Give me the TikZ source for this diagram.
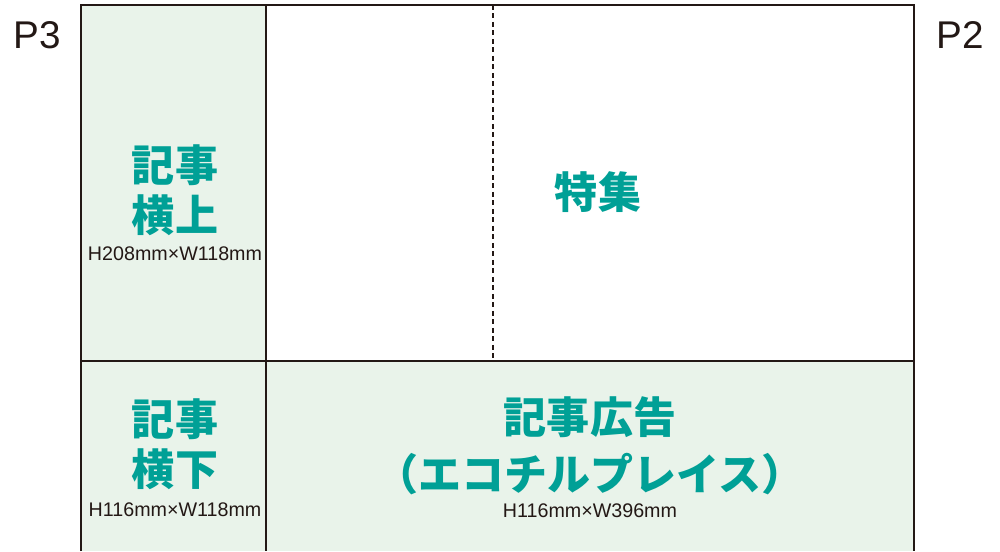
\documentclass[tikz,border=0pt]{standalone}
\usepackage{fontspec}
\setmainfont{Liberation Sans}
\newfontfamily\jpfont{Noto Sans CJK JP}
\usepackage{tikz}
\usetikzlibrary{positioning}
\definecolor{PageGreen}{RGB}{233,243,234}
\definecolor{TealText}{RGB}{0,160,150}
\definecolor{FrameInk}{RGB}{35,24,21}
\tikzset{
    frameline/.style={draw=FrameInk, line width=1.6pt},
    foldline/.style={draw=FrameInk, line width=0.6pt, dash pattern=on 0.1cm off 0.07cm},
    title/.style={font=\jpfont\bfseries\fontsize{24.5pt}{28.5pt}\selectfont, text=TealText, align=center, inner sep=0pt},
    sizetxt/.style={font=\fontsize{11.2pt}{13pt}\selectfont, text=FrameInk, inner sep=0pt},
    pagetxt/.style={font=\fontsize{22pt}{26pt}\selectfont, text=FrameInk, inner sep=0pt}
}
\begin{document}
\begin{tikzpicture}[x=0.02cm, y=-0.02cm]
    \useasboundingbox (0,0) rectangle (1000,551);

    % --- frame ---
    \coordinate (tl) at (81,5);
    \coordinate (tr) at (914,5);
    \coordinate (bl) at (81,551);
    \coordinate (br) at (914,551);
    \coordinate (midL) at (81,361);
    \coordinate (midR) at (914,361);
    \coordinate (colT) at (266,5);
    \coordinate (colB) at (266,551);
    \coordinate (foldT) at (493,5);
    \coordinate (foldB) at (493,361);

    \fill[PageGreen] (tl) rectangle (colB);
    \fill[PageGreen] (266,361) rectangle (br);

    \draw[foldline] (foldT) -- (foldB);
    \draw[frameline] (bl) -- (tl) -- (tr) -- (br);
    \draw[frameline] (midL) -- (midR);
    \draw[frameline] (colT) -- (colB);

    % --- page numbers ---
    \node[pagetxt] (p3) at (37,35) {P3};
    \node[pagetxt] (p2) at (960,35) {P2};

    % --- texts ---
    \node[title] (kijiUp) at (175,190) {記事\\横上};
    \node[sizetxt] (kijiUpSize) at (175,254) {H208mm×W118mm};
    \node[title] (tokushu) at (598,192) {特集};
    \node[title] (kijiLow) at (175,444) {記事\\横下};
    \node[sizetxt] (kijiLowSize) at (175,510) {H116mm×W118mm};
    \node[title, font=\jpfont\bfseries\fontsize{24.5pt}{32.4pt}\selectfont] (kijiAd) at (590,446) {記事広告\\（エコチルプレイス）};
    \node[sizetxt] (kijiAdSize) at (590,511) {H116mm×W396mm};
\end{tikzpicture}
\end{document}
